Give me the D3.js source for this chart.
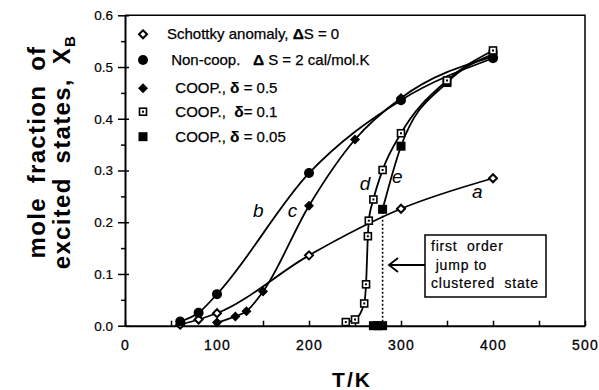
<!DOCTYPE html>
<html>
<head>
<meta charset="utf-8">
<script src="https://cdn.jsdelivr.net/npm/d3@7"></script>
<style>
  body { margin: 0; background: white; }
  text { font-family: "Liberation Sans", Arial, sans-serif; }
</style>
</head>
<body>
<script>
// data
const schottkyT = [60, 80, 100, 200, 300, 400];
const schottkyX = [0.002, 0.012, 0.024, 0.136, 0.226, 0.285];
const noncoopT = [60, 80, 100, 200, 300, 400];
const noncoopX = [0.008, 0.025, 0.061, 0.295, 0.436, 0.517];
const coop05T = [100, 120, 132, 150, 200, 250, 300, 400];
const coop05X = [0.006, 0.018, 0.028, 0.066, 0.232, 0.36, 0.44, 0.52];
const coop01T = [240, 250, 260, 262, 264, 265, 270, 280, 300, 350, 400];
const coop01X = [0.007, 0.012, 0.043, 0.08, 0.173, 0.203, 0.244, 0.301, 0.372, 0.474, 0.532];
const coop005T = [270, 275, 280, 280, 300, 350, 400];
const coop005X = [0, 0, 0, 0.225, 0.347, 0.47, 0.525];
const xTicks = [0, 100, 200, 300, 400, 500];
const yTicks = [0, 0.1, 0.2, 0.3, 0.4, 0.5, 0.6];
const curveNames = ["a", "b", "c", "d", "e"];
const jumpT = 280;
const jumpX = 0.225;

const svg = d3.select("body")
    .append("svg")
    .attr("width", 599)
    .attr("height", 390)

let x = d3.scaleLinear().domain([0, 500]).range([125, 585]);
let y = d3.scaleLinear().domain([0, 0.6]).range([325.7, 15.3]);

// frame
svg.append("path")
    .attr("d", `M${x(0)},${y(0.6)}H${x(500)}V${y(0)}`)
    .attr("fill", "none")
    .attr("stroke", "black")
    .attr("stroke-width", 1.5)

// x axis
let xAxis = svg.append("g")
    .attr("transform", `translate(0,${y(0)})`)
    .call(d3.axisBottom(x).tickValues(d3.range(0, 501, 50)).tickSize(-5).tickSizeOuter(0)
        .tickFormat(d => xTicks.includes(d) ? d : ""))
xAxis.select(".domain").attr("stroke-width", 2)
xAxis.selectAll(".tick line").attr("stroke-width", 1.5)
xAxis.selectAll(".tick text")
    .attr("y", 14)
    .attr("font-size", "14px")
    .attr("font-family", "Liberation Sans, Arial")
    .attr("letter-spacing", "1.2px")
    .attr("stroke", "black")
    .attr("stroke-width", 0.3)

// y axis
let yAxis = svg.append("g")
    .attr("transform", `translate(${x(0)},0)`)
    .call(d3.axisLeft(y).tickValues(d3.range(0, 0.601, 0.05)).tickSize(5).tickSizeOuter(0)
        .tickFormat(d => {
            let v = Math.round(d * 100);
            return v % 10 === 0 ? d3.format(".1f")(d) : "";
        }))
yAxis.select(".domain").attr("stroke-width", 2)
yAxis.selectAll(".tick line")
    .attr("stroke-width", 1.5)
    .attr("x1", (d) => Math.round(d * 100) % 10 === 0 ? 4 : 0)
    .attr("x2", (d) => Math.round(d * 100) % 10 === 0 ? -7 : -4)
yAxis.selectAll(".tick text")
    .attr("x", -12)
    .attr("font-size", "13.5px")
    .attr("font-family", "Liberation Sans, Arial")
    .attr("stroke", "black")
    .attr("stroke-width", 0.2)

// axis titles
svg.append("text")
    .attr("x", 352)
    .attr("y", 387)
    .attr("text-anchor", "middle")
    .attr("font-size", "21px")
    .attr("font-weight", "bold")
    .attr("letter-spacing", "2px")
    .text("T/K")

let yTitle = svg.append("g")
    .attr("transform", "translate(0,152) rotate(-90)")
yTitle.append("text")
    .attr("x", 0)
    .attr("y", 45)
    .attr("text-anchor", "middle")
    .attr("font-size", "24px")
    .attr("font-weight", "bold")
    .attr("word-spacing", "6px")
    .attr("letter-spacing", "1.3px")
    .text("mole fraction of")
let t2 = yTitle.append("text")
    .attr("x", 0)
    .attr("y", 70)
    .attr("text-anchor", "middle")
    .attr("font-size", "24px")
    .attr("font-weight", "bold")
    .attr("word-spacing", "6px")
    .attr("letter-spacing", "1.3px")
t2.append("tspan").text("excited states, X")
t2.append("tspan").attr("font-size", "15px").attr("dy", 5).text("B")

// curves
const toPts = (ts, xs) => ts.map((t, i) => [t, xs[i]]);
const line = d3.line()
    .x(d => x(d[0]))
    .y(d => y(d[1]))
    .curve(d3.curveMonotoneX)

const curveData = [
    toPts(schottkyT, schottkyX),
    toPts(noncoopT, noncoopX),
    toPts(coop05T, coop05X),
    toPts(coop01T, coop01X),
    toPts(coop005T, coop005X).slice(3)
];
svg.selectAll(".curve")
    .data(curveData)
    .enter()
    .append("path")
    .attr("class", "curve")
    .attr("d", d => line(d))
    .attr("fill", "none")
    .attr("stroke", "black")
    .attr("stroke-width", 1.8)

// dotted jump line
svg.append("line")
    .attr("x1", x(jumpT))
    .attr("x2", x(jumpT))
    .attr("y1", y(0))
    .attr("y2", y(jumpX))
    .attr("stroke", "black")
    .attr("stroke-width", 1.6)
    .attr("stroke-dasharray", "2,2")

// markers
const drawMarker = (g, type) => {
    if (type === "schottky") {
        g.append("path").attr("d", "M0,-4L4,0L0,4L-4,0Z")
            .attr("fill", "white").attr("stroke", "black").attr("stroke-width", 2)
    } else if (type === "noncoop") {
        g.append("circle").attr("r", 5).attr("fill", "black")
    } else if (type === "coop05") {
        g.append("path").attr("d", "M0,-5L5,0L0,5L-5,0Z").attr("fill", "black")
    } else if (type === "coop01") {
        g.append("rect").attr("x", -3.5).attr("y", -3.5).attr("width", 7).attr("height", 7)
            .attr("fill", "white").attr("stroke", "black").attr("stroke-width", 1.6)
        g.append("rect").attr("x", -1).attr("y", -1).attr("width", 2).attr("height", 2).attr("fill", "black")
    } else if (type === "coop005") {
        g.append("rect").attr("x", -4.5).attr("y", -4.5).attr("width", 9).attr("height", 9).attr("fill", "black")
    }
}

const series = [
    {type: "schottky", pts: toPts(schottkyT, schottkyX)},
    {type: "noncoop", pts: toPts(noncoopT, noncoopX)},
    {type: "coop05", pts: toPts(coop05T, coop05X)},
    {type: "coop005", pts: toPts(coop005T, coop005X)},
    {type: "coop01", pts: toPts(coop01T, coop01X)}
];
series.forEach((s) => {
    svg.selectAll(null)
        .data(s.pts)
        .enter()
        .append("g")
        .attr("transform", d => `translate(${x(d[0])},${y(d[1])})`)
        .each(function () { drawMarker(d3.select(this), s.type); })
})

// curve labels (handwritten in the original)
const labelPos = [[383, 0.247], [145, 0.21], [182, 0.21], [261, 0.262], [296, 0.276]];
svg.selectAll(".clabel")
    .data(curveNames)
    .enter()
    .append("text")
    .attr("class", "clabel")
    .attr("x", (d, i) => x(labelPos[i][0]))
    .attr("y", (d, i) => y(labelPos[i][1]))
    .attr("text-anchor", "middle")
    .attr("font-family", "DejaVu Sans, sans-serif")
    .attr("font-style", "italic")
    .attr("font-size", "19px")
    .text(d => d)

// legend
const legendTypes = ["schottky", "noncoop", "coop05", "coop01", "coop005"];
const legendLabels = [
    ["Schottky anomaly, ", "Δ", "S = 0"],
    [" Non-coop.   ", "Δ", " S = 2 cal/mol.K"],
    ["  COOP., ", "δ", " = 0.5"],
    ["  COOP.,  ", "δ", "= 0.1"],
    ["  COOP., ", "δ", " = 0.05"]
];
const legendY = [34.3, 60, 88.3, 111.7, 136.7];
let leg = svg.selectAll(".leg")
    .data(legendTypes)
    .enter()
    .append("g")
    .attr("class", "leg")
    .attr("transform", (d, i) => `translate(143,${legendY[i]})`)
leg.each(function (d) { drawMarker(d3.select(this), d); })
let legText = leg.append("text")
    .attr("x", 24)
    .attr("y", 5)
    .attr("font-size", "15px")
    .attr("stroke", "black")
    .attr("stroke-width", 0.25)
    .style("white-space", "pre")
legText.append("tspan").text((d, i) => legendLabels[i][0])
legText.append("tspan").attr("font-weight", "bold").attr("font-size", "15.5px").text((d, i) => legendLabels[i][1])
legText.append("tspan").text((d, i) => legendLabels[i][2])

// annotation box
svg.append("rect")
    .attr("x", 425)
    .attr("y", 235)
    .attr("width", 121)
    .attr("height", 62)
    .attr("fill", "white")
    .attr("stroke", "black")
    .attr("stroke-width", 1.5)
const boxLines = ["first  order", " jump to", "clustered  state"];
svg.selectAll(".boxline")
    .data(boxLines)
    .enter()
    .append("text")
    .attr("class", "boxline")
    .attr("x", 431)
    .attr("y", (d, i) => 251 + i * 18.7)
    .attr("font-size", "14px")
    .attr("letter-spacing", "0.8px")
    .attr("stroke", "black")
    .attr("stroke-width", 0.2)
    .style("white-space", "pre")
    .text(d => d)
svg.append("path")
    .attr("d", "M425,265H389M398,258L389,265L398,272")
    .attr("fill", "none")
    .attr("stroke", "black")
    .attr("stroke-width", 1.8)
</script>
</body>
</html>
